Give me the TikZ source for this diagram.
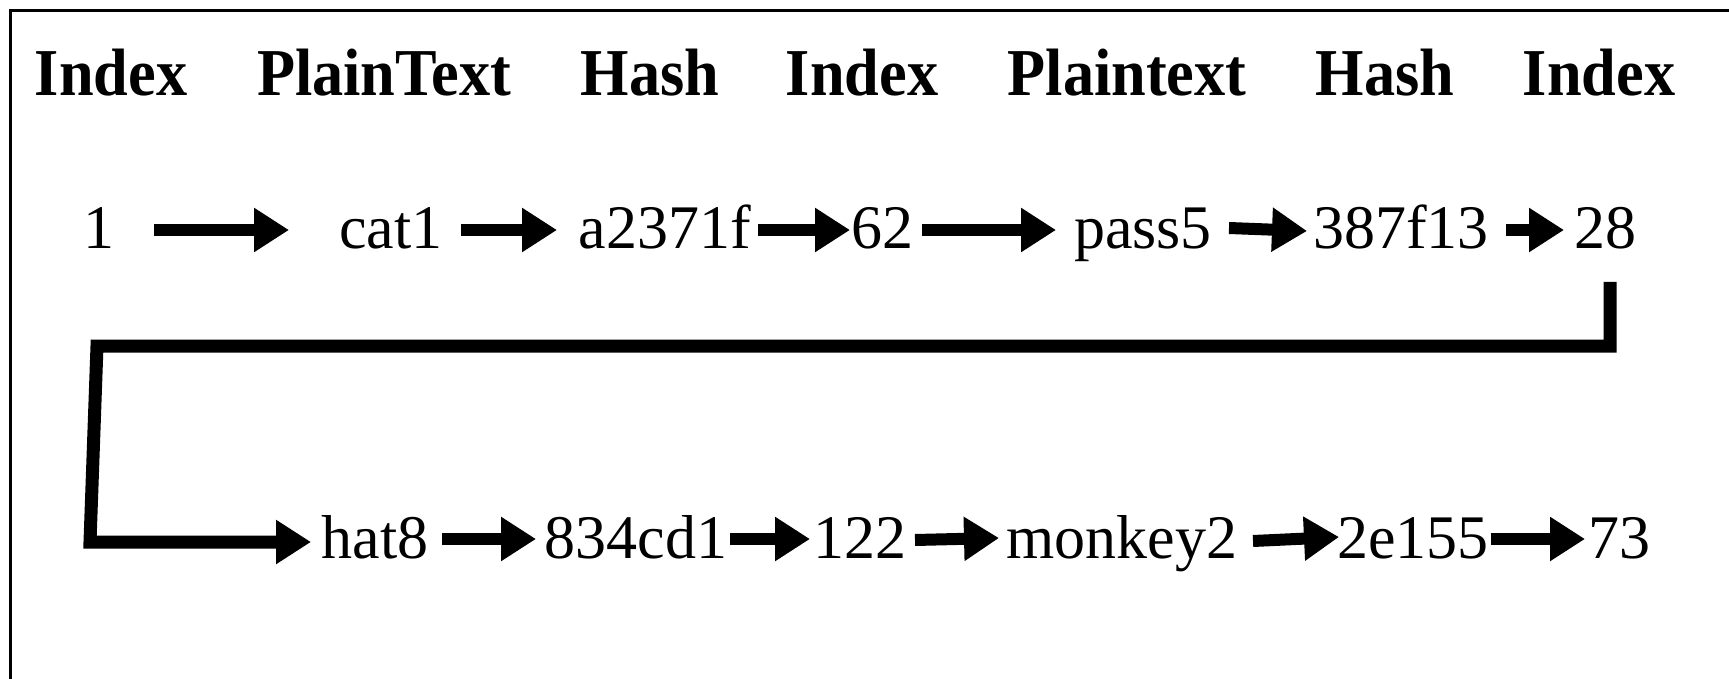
\documentclass[tikz,border=0pt]{standalone}
\usepackage{fontspec}
\setmainfont{Liberation Serif}
\newfontfamily\hdrfont{Liberation Serif}[FakeStretch=0.93]
\usetikzlibrary{arrows.meta,calc}
\begin{document}
\begin{tikzpicture}[x=0.5pt,y=-0.5pt,
  hdr/.style={inner sep=0pt, anchor=base, font=\hdrfont\bfseries\fontsize{33.5pt}{40pt}\selectfont},
  val/.style={inner sep=0pt, anchor=base, text height=19pt, text depth=0pt, font=\fontsize{31pt}{37pt}\selectfont},
  bigarrow/.style={line width=6pt, -{Triangle[length=17.5pt,width=21pt]}},
  loopline/.style={line width=6.5pt, line join=miter, -{Triangle[length=17.5pt,width=21pt]}},
  frameline/.style={line width=1.5pt}]
\useasboundingbox (0,0) rectangle (1729,679);
\draw[frameline] (10,679) -- (10,11) -- (1729,11);

% headers
\node[hdr] (h1) at (111,96) {Index};
\node[hdr] (h2) at (384,96) {PlainText};
\node[hdr] (h3) at (650,96) {Hash};
\node[hdr] (h4) at (862,96) {Index};
\node[hdr] (h5) at (1127,96) {Plaintext};
\node[hdr] (h6) at (1385,96) {Hash};
\node[hdr] (h7) at (1599,96) {Index};

% row 1
\node[val] (v1) at (99,249) {1};
\node[val] (v2) at (391,249) {cat1};
\node[val] (v3) at (665,249) {a2371f};
\node[val] (v4) at (882,249) {62};
\node[val] (v5) at (1143,249) {pass5};
\node[val] (v6) at (1401,249) {387f13};
\node[val] (v7) at (1605,249) {28};

% row 2
\node[val] (w1) at (375,558) {hat8};
\node[val] (w2) at (636,558) {834cd1};
\node[val] (w3) at (860,558) {122};
\node[val] (w4) at (1122,558) {monkey2};
\node[val] (w5) at (1413,558) {2e155};
\node[val] (w6) at (1619,558) {73};

% row 1 arrows
\draw[bigarrow] ($(v1.center)+(55,0)$) -- ($(v2.center)+(-102,0)$);
\draw[bigarrow] ($(v2.center)+(70,0)$) -- ($(v3.center)+(-108,0)$);
\draw[bigarrow] ($(v3.center)+(93,0)$) -- ($(v4.center)+(-32,0)$);
\draw[bigarrow] ($(v4.center)+(40,0)$) -- ($(v5.center)+(-87,0)$);
\draw[bigarrow] ($(v5.center)+(86,-2)$) -- ($(v6.center)+(-94,1)$);
\draw[bigarrow] ($(v6.center)+(105,0)$) -- ($(v7.center)+(-41,0)$);

% loop connector
\coordinate (c2) at (97,346);
\coordinate (c3) at (90,542);
\draw[loopline] ($(v7.center)+(5,52)$) |- (c2) -- (c3) -- ($(w1.center)+(-64,3)$);

% row 2 arrows
\draw[bigarrow] ($(w1.center)+(67,0)$) -- ($(w2.center)+(-100,0)$);
\draw[bigarrow] ($(w2.center)+(94,0)$) -- ($(w3.center)+(-50,0)$);
\draw[bigarrow] ($(w3.center)+(55,1)$) -- ($(w4.center)+(-123,-1)$);
\draw[bigarrow] ($(w4.center)+(131,2)$) -- ($(w5.center)+(-74,-2)$);
\draw[bigarrow] ($(w5.center)+(78,0)$) -- ($(w6.center)+(-34,0)$);
\end{tikzpicture}
\end{document}
